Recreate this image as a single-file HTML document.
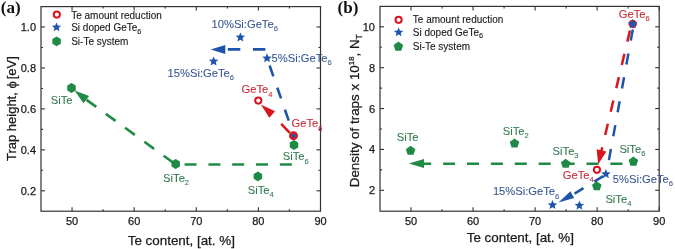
<!DOCTYPE html>
<html><head><meta charset="utf-8"><style>
html,body{margin:0;padding:0;background:#fff;}
svg{display:block;font-family:"Liberation Sans",sans-serif;will-change:transform;}
</style></head><body>
<svg width="675" height="249" viewBox="0 0 675 249" font-family="Liberation Sans, sans-serif">
<rect width="675" height="249" fill="#fff"/>
<g>
<rect x="41" y="6.6" width="279.5" height="204.6" fill="none" stroke="#333333" stroke-width="1.2"/>
<line x1="72.06" y1="211.2" x2="72.06" y2="207.2" stroke="#333333" stroke-width="1.1"/>
<line x1="72.06" y1="6.6" x2="72.06" y2="10.6" stroke="#333333" stroke-width="1.1"/>
<line x1="134.17" y1="211.2" x2="134.17" y2="207.2" stroke="#333333" stroke-width="1.1"/>
<line x1="134.17" y1="6.6" x2="134.17" y2="10.6" stroke="#333333" stroke-width="1.1"/>
<line x1="196.28" y1="211.2" x2="196.28" y2="207.2" stroke="#333333" stroke-width="1.1"/>
<line x1="196.28" y1="6.6" x2="196.28" y2="10.6" stroke="#333333" stroke-width="1.1"/>
<line x1="258.39" y1="211.2" x2="258.39" y2="207.2" stroke="#333333" stroke-width="1.1"/>
<line x1="258.39" y1="6.6" x2="258.39" y2="10.6" stroke="#333333" stroke-width="1.1"/>
<line x1="320.50" y1="211.2" x2="320.50" y2="207.2" stroke="#333333" stroke-width="1.1"/>
<line x1="320.50" y1="6.6" x2="320.50" y2="10.6" stroke="#333333" stroke-width="1.1"/>
<line x1="103.11" y1="211.2" x2="103.11" y2="209.2" stroke="#333333" stroke-width="1.1"/>
<line x1="103.11" y1="6.6" x2="103.11" y2="8.6" stroke="#333333" stroke-width="1.1"/>
<line x1="165.22" y1="211.2" x2="165.22" y2="209.2" stroke="#333333" stroke-width="1.1"/>
<line x1="165.22" y1="6.6" x2="165.22" y2="8.6" stroke="#333333" stroke-width="1.1"/>
<line x1="227.33" y1="211.2" x2="227.33" y2="209.2" stroke="#333333" stroke-width="1.1"/>
<line x1="227.33" y1="6.6" x2="227.33" y2="8.6" stroke="#333333" stroke-width="1.1"/>
<line x1="289.44" y1="211.2" x2="289.44" y2="209.2" stroke="#333333" stroke-width="1.1"/>
<line x1="289.44" y1="6.6" x2="289.44" y2="8.6" stroke="#333333" stroke-width="1.1"/>
<line x1="41" y1="190.80" x2="45" y2="190.80" stroke="#333333" stroke-width="1.1"/>
<line x1="320.5" y1="190.80" x2="316.5" y2="190.80" stroke="#333333" stroke-width="1.1"/>
<line x1="41" y1="149.85" x2="45" y2="149.85" stroke="#333333" stroke-width="1.1"/>
<line x1="320.5" y1="149.85" x2="316.5" y2="149.85" stroke="#333333" stroke-width="1.1"/>
<line x1="41" y1="108.90" x2="45" y2="108.90" stroke="#333333" stroke-width="1.1"/>
<line x1="320.5" y1="108.90" x2="316.5" y2="108.90" stroke="#333333" stroke-width="1.1"/>
<line x1="41" y1="67.95" x2="45" y2="67.95" stroke="#333333" stroke-width="1.1"/>
<line x1="320.5" y1="67.95" x2="316.5" y2="67.95" stroke="#333333" stroke-width="1.1"/>
<line x1="41" y1="27.00" x2="45" y2="27.00" stroke="#333333" stroke-width="1.1"/>
<line x1="320.5" y1="27.00" x2="316.5" y2="27.00" stroke="#333333" stroke-width="1.1"/>
<line x1="41" y1="170.32" x2="43" y2="170.32" stroke="#333333" stroke-width="1.1"/>
<line x1="320.5" y1="170.32" x2="318.5" y2="170.32" stroke="#333333" stroke-width="1.1"/>
<line x1="41" y1="129.38" x2="43" y2="129.38" stroke="#333333" stroke-width="1.1"/>
<line x1="320.5" y1="129.38" x2="318.5" y2="129.38" stroke="#333333" stroke-width="1.1"/>
<line x1="41" y1="88.43" x2="43" y2="88.43" stroke="#333333" stroke-width="1.1"/>
<line x1="320.5" y1="88.43" x2="318.5" y2="88.43" stroke="#333333" stroke-width="1.1"/>
<line x1="41" y1="47.47" x2="43" y2="47.47" stroke="#333333" stroke-width="1.1"/>
<line x1="320.5" y1="47.47" x2="318.5" y2="47.47" stroke="#333333" stroke-width="1.1"/>
<text x="72.06" y="225.2" font-size="11" fill="#1a1a1a" stroke="#1a1a1a" stroke-width="0.25" text-anchor="middle" >50</text>
<text x="134.17" y="225.2" font-size="11" fill="#1a1a1a" stroke="#1a1a1a" stroke-width="0.25" text-anchor="middle" >60</text>
<text x="196.28" y="225.2" font-size="11" fill="#1a1a1a" stroke="#1a1a1a" stroke-width="0.25" text-anchor="middle" >70</text>
<text x="258.39" y="225.2" font-size="11" fill="#1a1a1a" stroke="#1a1a1a" stroke-width="0.25" text-anchor="middle" >80</text>
<text x="320.50" y="225.2" font-size="11" fill="#1a1a1a" stroke="#1a1a1a" stroke-width="0.25" text-anchor="middle" >90</text>
<text x="36" y="194.80" font-size="11" fill="#1a1a1a" stroke="#1a1a1a" stroke-width="0.25" text-anchor="end" >0.2</text>
<text x="36" y="153.85" font-size="11" fill="#1a1a1a" stroke="#1a1a1a" stroke-width="0.25" text-anchor="end" >0.4</text>
<text x="36" y="112.90" font-size="11" fill="#1a1a1a" stroke="#1a1a1a" stroke-width="0.25" text-anchor="end" >0.6</text>
<text x="36" y="71.95" font-size="11" fill="#1a1a1a" stroke="#1a1a1a" stroke-width="0.25" text-anchor="end" >0.8</text>
<text x="36" y="31.00" font-size="11" fill="#1a1a1a" stroke="#1a1a1a" stroke-width="0.25" text-anchor="end" >1.0</text>
<text x="181.3" y="244.5" font-size="13.4" fill="#1a1a1a" stroke="#1a1a1a" stroke-width="0.25" text-anchor="middle" >Te content, [at. %]</text>
<text transform="translate(15.8,108.6) rotate(-90)" font-size="13" fill="#1a1a1a" stroke="#1a1a1a" stroke-width="0.25" text-anchor="middle">Trap height, &#981;<tspan dx="2">[eV]</tspan></text>
<text x="0.8" y="12.9" font-size="17" font-weight="bold" font-family="Liberation Serif, serif" fill="#111">(a)</text>
<circle cx="56.80" cy="14.60" r="3.1" fill="none" stroke="#d8141c" stroke-width="2.0"/>
<polygon points="56.50,22.40 57.80,25.52 61.16,25.79 58.60,27.98 59.38,31.26 56.50,29.51 53.62,31.26 54.40,27.98 51.84,25.79 55.20,25.52" fill="#1e55ab"/>
<polygon points="56.60,36.50 60.84,38.95 60.84,43.85 56.60,46.30 52.36,43.85 52.36,38.95" fill="#1f8a45"/>
<text x="71.2" y="18.5" font-size="10" fill="#1a1a1a" stroke="#1a1a1a" stroke-width="0.12" text-anchor="start" >Te amount reduction</text>
<text x="71.2" y="30.8" font-size="10" fill="#1a1a1a" stroke="#1a1a1a" stroke-width="0.12" text-anchor="start" >Si doped GeTe<tspan font-size="7.3" dy="2.8">6</tspan></text>
<text x="71.2" y="44.7" font-size="10" fill="#1a1a1a" stroke="#1a1a1a" stroke-width="0.12" text-anchor="start" >Si-Te system</text>
<polyline points="293.00,164.50 175.70,164.50 86.30,99.70" fill="none" stroke="#1f8a45" stroke-width="2.6" stroke-dasharray="12 11.8" stroke-dashoffset="-1.2"/>
<polygon points="74.50,90.60 89.11,96.06 83.49,103.34" fill="#1f8a45"/>
<polygon points="71.50,83.10 75.74,85.55 75.74,90.45 71.50,92.90 67.26,90.45 67.26,85.55" fill="#1f8a45"/>
<polygon points="175.70,159.10 179.94,161.55 179.94,166.45 175.70,168.90 171.46,166.45 171.46,161.55" fill="#1f8a45"/>
<polygon points="257.90,171.50 262.14,173.95 262.14,178.85 257.90,181.30 253.66,178.85 253.66,173.95" fill="#1f8a45"/>
<polygon points="294.00,140.10 298.24,142.55 298.24,147.45 294.00,149.90 289.76,147.45 289.76,142.55" fill="#1f8a45"/>
<polyline points="292.60,135.80 272.20,114.60" fill="none" stroke="#d8141c" stroke-width="2.5" stroke-dasharray="12.3 13" stroke-dashoffset="21.2"/>
<polygon points="260.80,104.60 275.04,111.37 269.36,117.83" fill="#d8141c"/>
<circle cx="258.30" cy="100.60" r="3.1" fill="none" stroke="#d8141c" stroke-width="2.0"/>
<polyline points="292.00,130.00 267.10,58.30" fill="none" stroke="#1e55ab" stroke-width="2.6" stroke-dasharray="11.5 11.9" stroke-dashoffset="13.4"/>
<polyline points="265.40,49.40 225.30,49.40" fill="none" stroke="#1e55ab" stroke-width="2.6" stroke-dasharray="12.5 12.6" stroke-dashoffset="0"/>
<polygon points="210.60,49.40 225.30,44.90 225.30,53.90" fill="#1e55ab"/>
<polygon points="267.00,53.30 268.32,56.48 271.76,56.75 269.14,59.00 269.94,62.35 267.00,60.55 264.06,62.35 264.86,59.00 262.24,56.75 265.68,56.48" fill="#1e55ab"/>
<polygon points="240.40,32.40 241.72,35.58 245.16,35.85 242.54,38.10 243.34,41.45 240.40,39.65 237.46,41.45 238.26,38.10 235.64,35.85 239.08,35.58" fill="#1e55ab"/>
<polygon points="213.60,56.40 214.92,59.58 218.36,59.85 215.74,62.10 216.54,65.45 213.60,63.65 210.66,65.45 211.46,62.10 208.84,59.85 212.28,59.58" fill="#1e55ab"/>
<polygon points="293.50,131.40 294.79,134.02 297.68,134.44 295.59,136.48 296.09,139.36 293.50,138.00 290.91,139.36 291.41,136.48 289.32,134.44 292.21,134.02" fill="#1e55ab"/>
<circle cx="293.50" cy="135.70" r="3.3" fill="none" stroke="#d8141c" stroke-width="2.3"/>
<text x="211.5" y="28.1" font-size="11.2" fill="#3a5992" stroke="#3a5992" stroke-width="0.1" text-anchor="start" >10%Si:GeTe<tspan font-size="7.6" dy="3.2">6</tspan></text>
<text x="271.6" y="61.6" font-size="11.2" fill="#3a5992" stroke="#3a5992" stroke-width="0.1" text-anchor="start" >5%Si:GeTe<tspan font-size="7.6" dy="3.2">6</tspan></text>
<text x="167.6" y="77.2" font-size="11.2" fill="#3a5992" stroke="#3a5992" stroke-width="0.1" text-anchor="start" >15%Si:GeTe<tspan font-size="7.6" dy="3.2">6</tspan></text>
<text x="241.5" y="93.3" font-size="11.2" fill="#c62e38" stroke="#c62e38" stroke-width="0.1" text-anchor="start" >GeTe<tspan font-size="7.6" dy="3.2">4</tspan></text>
<text x="291.6" y="127.4" font-size="11.2" fill="#c62e38" stroke="#c62e38" stroke-width="0.1" text-anchor="start" >GeTe<tspan font-size="7.6" dy="3.2">6</tspan></text>
<text x="50.8" y="103.9" font-size="11.2" fill="#347a50" stroke="#347a50" stroke-width="0.1" text-anchor="start" >SiTe</text>
<text x="163.1" y="182.15" font-size="11.2" fill="#347a50" stroke="#347a50" stroke-width="0.1" text-anchor="start" >SiTe<tspan font-size="7.6" dy="3.2">2</tspan></text>
<text x="247.8" y="193.6" font-size="11.2" fill="#347a50" stroke="#347a50" stroke-width="0.1" text-anchor="start" >SiTe<tspan font-size="7.6" dy="3.2">4</tspan></text>
<text x="282.8" y="160.3" font-size="11.2" fill="#347a50" stroke="#347a50" stroke-width="0.1" text-anchor="start" >SiTe<tspan font-size="7.6" dy="3.2">6</tspan></text>
</g>
<rect x="380" y="6.4" width="279.20000000000005" height="204.79999999999998" fill="none" stroke="#333333" stroke-width="1.2"/>
<line x1="411.02" y1="211.2" x2="411.02" y2="207.2" stroke="#333333" stroke-width="1.1"/>
<line x1="411.02" y1="6.4" x2="411.02" y2="10.4" stroke="#333333" stroke-width="1.1"/>
<line x1="473.07" y1="211.2" x2="473.07" y2="207.2" stroke="#333333" stroke-width="1.1"/>
<line x1="473.07" y1="6.4" x2="473.07" y2="10.4" stroke="#333333" stroke-width="1.1"/>
<line x1="535.11" y1="211.2" x2="535.11" y2="207.2" stroke="#333333" stroke-width="1.1"/>
<line x1="535.11" y1="6.4" x2="535.11" y2="10.4" stroke="#333333" stroke-width="1.1"/>
<line x1="597.16" y1="211.2" x2="597.16" y2="207.2" stroke="#333333" stroke-width="1.1"/>
<line x1="597.16" y1="6.4" x2="597.16" y2="10.4" stroke="#333333" stroke-width="1.1"/>
<line x1="659.20" y1="211.2" x2="659.20" y2="207.2" stroke="#333333" stroke-width="1.1"/>
<line x1="659.20" y1="6.4" x2="659.20" y2="10.4" stroke="#333333" stroke-width="1.1"/>
<line x1="442.04" y1="211.2" x2="442.04" y2="209.2" stroke="#333333" stroke-width="1.1"/>
<line x1="442.04" y1="6.4" x2="442.04" y2="8.4" stroke="#333333" stroke-width="1.1"/>
<line x1="504.09" y1="211.2" x2="504.09" y2="209.2" stroke="#333333" stroke-width="1.1"/>
<line x1="504.09" y1="6.4" x2="504.09" y2="8.4" stroke="#333333" stroke-width="1.1"/>
<line x1="566.13" y1="211.2" x2="566.13" y2="209.2" stroke="#333333" stroke-width="1.1"/>
<line x1="566.13" y1="6.4" x2="566.13" y2="8.4" stroke="#333333" stroke-width="1.1"/>
<line x1="628.18" y1="211.2" x2="628.18" y2="209.2" stroke="#333333" stroke-width="1.1"/>
<line x1="628.18" y1="6.4" x2="628.18" y2="8.4" stroke="#333333" stroke-width="1.1"/>
<line x1="380" y1="190.32" x2="384" y2="190.32" stroke="#333333" stroke-width="1.1"/>
<line x1="659.2" y1="190.32" x2="655.2" y2="190.32" stroke="#333333" stroke-width="1.1"/>
<line x1="380" y1="149.44" x2="384" y2="149.44" stroke="#333333" stroke-width="1.1"/>
<line x1="659.2" y1="149.44" x2="655.2" y2="149.44" stroke="#333333" stroke-width="1.1"/>
<line x1="380" y1="108.56" x2="384" y2="108.56" stroke="#333333" stroke-width="1.1"/>
<line x1="659.2" y1="108.56" x2="655.2" y2="108.56" stroke="#333333" stroke-width="1.1"/>
<line x1="380" y1="67.68" x2="384" y2="67.68" stroke="#333333" stroke-width="1.1"/>
<line x1="659.2" y1="67.68" x2="655.2" y2="67.68" stroke="#333333" stroke-width="1.1"/>
<line x1="380" y1="26.80" x2="384" y2="26.80" stroke="#333333" stroke-width="1.1"/>
<line x1="659.2" y1="26.80" x2="655.2" y2="26.80" stroke="#333333" stroke-width="1.1"/>
<line x1="380" y1="169.88" x2="382" y2="169.88" stroke="#333333" stroke-width="1.1"/>
<line x1="659.2" y1="169.88" x2="657.2" y2="169.88" stroke="#333333" stroke-width="1.1"/>
<line x1="380" y1="129.00" x2="382" y2="129.00" stroke="#333333" stroke-width="1.1"/>
<line x1="659.2" y1="129.00" x2="657.2" y2="129.00" stroke="#333333" stroke-width="1.1"/>
<line x1="380" y1="88.12" x2="382" y2="88.12" stroke="#333333" stroke-width="1.1"/>
<line x1="659.2" y1="88.12" x2="657.2" y2="88.12" stroke="#333333" stroke-width="1.1"/>
<line x1="380" y1="47.24" x2="382" y2="47.24" stroke="#333333" stroke-width="1.1"/>
<line x1="659.2" y1="47.24" x2="657.2" y2="47.24" stroke="#333333" stroke-width="1.1"/>
<text x="411.02" y="225.2" font-size="11" fill="#1a1a1a" stroke="#1a1a1a" stroke-width="0.25" text-anchor="middle" >50</text>
<text x="473.07" y="225.2" font-size="11" fill="#1a1a1a" stroke="#1a1a1a" stroke-width="0.25" text-anchor="middle" >60</text>
<text x="535.11" y="225.2" font-size="11" fill="#1a1a1a" stroke="#1a1a1a" stroke-width="0.25" text-anchor="middle" >70</text>
<text x="597.16" y="225.2" font-size="11" fill="#1a1a1a" stroke="#1a1a1a" stroke-width="0.25" text-anchor="middle" >80</text>
<text x="659.20" y="225.2" font-size="11" fill="#1a1a1a" stroke="#1a1a1a" stroke-width="0.25" text-anchor="middle" >90</text>
<text x="375" y="194.32" font-size="11" fill="#1a1a1a" stroke="#1a1a1a" stroke-width="0.25" text-anchor="end" >2</text>
<text x="375" y="153.44" font-size="11" fill="#1a1a1a" stroke="#1a1a1a" stroke-width="0.25" text-anchor="end" >4</text>
<text x="375" y="112.56" font-size="11" fill="#1a1a1a" stroke="#1a1a1a" stroke-width="0.25" text-anchor="end" >6</text>
<text x="375" y="71.68" font-size="11" fill="#1a1a1a" stroke="#1a1a1a" stroke-width="0.25" text-anchor="end" >8</text>
<text x="375" y="30.80" font-size="11" fill="#1a1a1a" stroke="#1a1a1a" stroke-width="0.25" text-anchor="end" >10</text>
<text x="520.3" y="242.4" font-size="13.4" fill="#1a1a1a" stroke="#1a1a1a" stroke-width="0.25" text-anchor="middle" >Te content, [at. %]</text>
<text transform="translate(359,110.7) rotate(-90)" font-size="13.4" fill="#1a1a1a" stroke="#1a1a1a" stroke-width="0.25" text-anchor="middle">Density of traps x 10<tspan font-size="7.8" dy="-5">18</tspan><tspan dy="5">, N</tspan><tspan font-size="8.6" dy="3">T</tspan></text>
<text x="337.6" y="12.9" font-size="17" font-weight="bold" font-family="Liberation Serif, serif" fill="#111">(b)</text>
<circle cx="398.60" cy="19.80" r="3.1" fill="none" stroke="#d8141c" stroke-width="2.0"/>
<polygon points="398.60,27.50 399.90,30.62 403.26,30.89 400.70,33.08 401.48,36.36 398.60,34.60 395.72,36.36 396.50,33.08 393.94,30.89 397.30,30.62" fill="#1e55ab"/>
<polygon points="398.40,41.60 403.16,45.05 401.34,50.65 395.46,50.65 393.64,45.05" fill="#1f8a45"/>
<text x="412.8" y="23.1" font-size="10" fill="#1a1a1a" stroke="#1a1a1a" stroke-width="0.12" text-anchor="start" >Te amount reduction</text>
<text x="412.8" y="35.6" font-size="10" fill="#1a1a1a" stroke="#1a1a1a" stroke-width="0.12" text-anchor="start" >Si doped GeTe<tspan font-size="7.3" dy="2.8">6</tspan></text>
<text x="412.8" y="50.3" font-size="10" fill="#1a1a1a" stroke="#1a1a1a" stroke-width="0.12" text-anchor="start" >Si-Te system</text>
<polyline points="633.40,163.80 424.00,163.80" fill="none" stroke="#1f8a45" stroke-width="2.6" stroke-dasharray="12 11.9" stroke-dashoffset="12.9"/>
<polygon points="408.80,163.60 424.00,159.10 424.00,168.10" fill="#1f8a45"/>
<polygon points="410.60,145.80 415.36,149.25 413.54,154.85 407.66,154.85 405.84,149.25" fill="#1f8a45"/>
<polygon points="514.50,138.40 519.26,141.85 517.44,147.45 511.56,147.45 509.74,141.85" fill="#1f8a45"/>
<polygon points="565.70,158.70 570.46,162.15 568.64,167.75 562.76,167.75 560.94,162.15" fill="#1f8a45"/>
<polygon points="596.80,181.20 601.56,184.65 599.74,190.25 593.86,190.25 592.04,184.65" fill="#1f8a45"/>
<polygon points="633.40,156.60 638.16,160.05 636.34,165.65 630.46,165.65 628.64,160.05" fill="#1f8a45"/>
<polyline points="631.55,23.80 601.40,151.00" fill="none" stroke="#d8141c" stroke-width="2.5" stroke-dasharray="11.5 12.5" stroke-dashoffset="17.2"/>
<polygon points="598.20,164.30 596.63,149.15 606.37,151.45" fill="#d8141c"/>
<circle cx="596.90" cy="169.80" r="3.1" fill="none" stroke="#d8141c" stroke-width="2.0"/>
<polyline points="633.85,23.80 606.30,174.30" fill="none" stroke="#1e55ab" stroke-width="2.5" stroke-dasharray="11.3 13" stroke-dashoffset="18.5"/>
<polyline points="606.30,174.30 572.80,194.70" fill="none" stroke="#1e55ab" stroke-width="2.5" stroke-dasharray="10.5 12.6" stroke-dashoffset="19.5"/>
<polygon points="558.50,202.40 570.40,191.29 574.20,198.11" fill="#1e55ab"/>
<polygon points="605.90,169.10 607.22,172.28 610.66,172.55 608.04,174.80 608.84,178.15 605.90,176.35 602.96,178.15 603.76,174.80 601.14,172.55 604.58,172.28" fill="#1e55ab"/>
<polygon points="579.40,200.60 580.72,203.78 584.16,204.05 581.54,206.30 582.34,209.65 579.40,207.85 576.46,209.65 577.26,206.30 574.64,204.05 578.08,203.78" fill="#1e55ab"/>
<polygon points="552.50,200.00 553.82,203.18 557.26,203.45 554.64,205.70 555.44,209.05 552.50,207.25 549.56,209.05 550.36,205.70 547.74,203.45 551.18,203.18" fill="#1e55ab"/>
<circle cx="632.70" cy="23.90" r="3.3" fill="none" stroke="#d8141c" stroke-width="1.8"/>
<circle cx="632.7" cy="24" r="2.6" fill="#1e55ab"/>
<polygon points="632.70,19.10 634.17,22.08 637.46,22.55 635.08,24.87 635.64,28.15 632.70,26.60 629.76,28.15 630.32,24.87 627.94,22.55 631.23,22.08" fill="#1e55ab"/>
<text x="618.8" y="18.1" font-size="11.2" fill="#c62e38" stroke="#c62e38" stroke-width="0.1" text-anchor="start" >GeTe<tspan font-size="7.6" dy="3.2">6</tspan></text>
<text x="612.8" y="182.9" font-size="11.2" fill="#3a5992" stroke="#3a5992" stroke-width="0.1" text-anchor="start" >5%Si:GeTe<tspan font-size="7.6" dy="3.2">6</tspan></text>
<text x="492.9" y="195.45" font-size="11.2" fill="#3a5992" stroke="#3a5992" stroke-width="0.1" text-anchor="start" >15%Si:GeTe<tspan font-size="7.6" dy="3.2">6</tspan></text>
<text x="562.8" y="179.1" font-size="11.2" fill="#c62e38" stroke="#c62e38" stroke-width="0.1" text-anchor="start" >GeTe<tspan font-size="7.6" dy="3.2">4</tspan></text>
<text x="396.7" y="141.1" font-size="11.2" fill="#347a50" stroke="#347a50" stroke-width="0.1" text-anchor="start" >SiTe</text>
<text x="502.8" y="134.9" font-size="11.2" fill="#347a50" stroke="#347a50" stroke-width="0.1" text-anchor="start" >SiTe<tspan font-size="7.6" dy="3.2">2</tspan></text>
<text x="552.6" y="154.5" font-size="11.2" fill="#347a50" stroke="#347a50" stroke-width="0.1" text-anchor="start" >SiTe<tspan font-size="7.6" dy="3.2">3</tspan></text>
<text x="619.4" y="152.5" font-size="11.2" fill="#347a50" stroke="#347a50" stroke-width="0.1" text-anchor="start" >SiTe<tspan font-size="7.6" dy="3.2">6</tspan></text>
<text x="605.4" y="202.9" font-size="11.2" fill="#347a50" stroke="#347a50" stroke-width="0.1" text-anchor="start" >SiTe<tspan font-size="7.6" dy="3.2">4</tspan></text>
</svg>
</body></html>
